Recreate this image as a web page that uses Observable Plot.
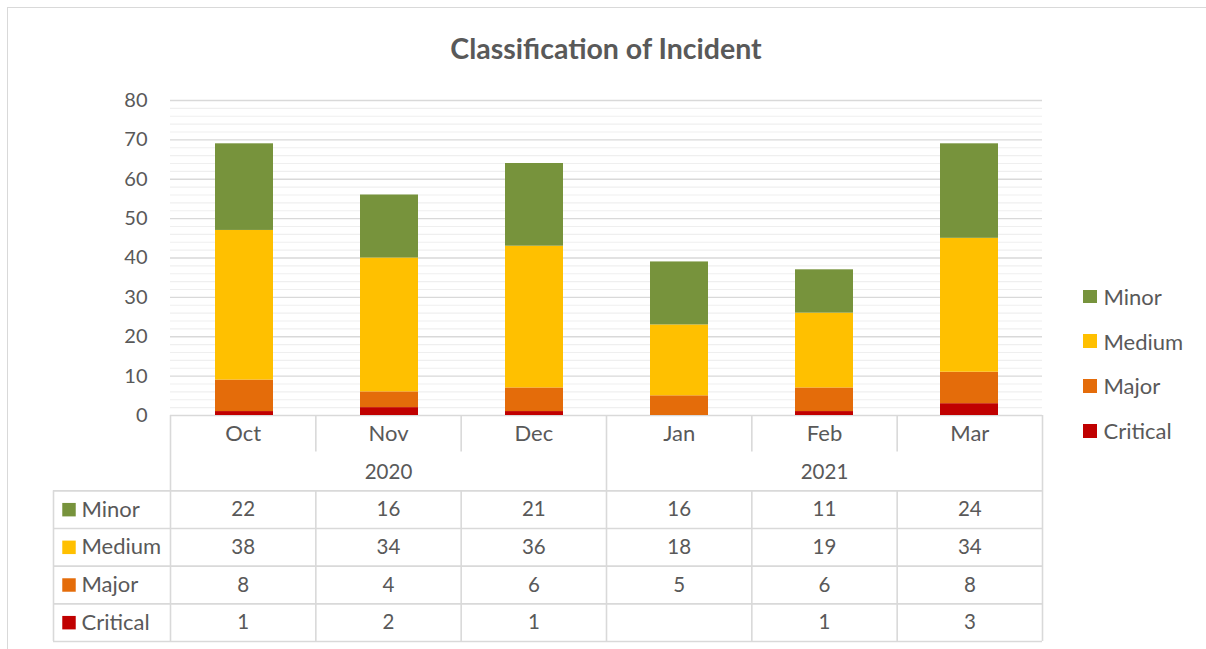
<!DOCTYPE html>
<html>
<head>
<meta charset="utf-8">
<script src="https://cdn.jsdelivr.net/npm/d3@7"></script>
<script src="https://cdn.jsdelivr.net/npm/@observablehq/plot@0.6"></script>
<style>
  html, body { margin: 0; padding: 0; background: #fff; }
  #root { position: relative; width: 1206px; height: 649px; overflow: hidden; background: #fff; font-family: Lato, "Open Sans", sans-serif; color: #595959; }
  #border { position: absolute; left: 7px; top: 7px; width: 1210px; height: 660px; border-top: 1.5px solid #d9d9d9; border-left: 1.5px solid #d9d9d9; }
  #title { position: absolute; left: 0; width: 1212px; top: 33px; text-align: center; font-size: 28.5px; font-weight: bold; line-height: 30px; color: #595959; }
  #chart { position: absolute; left: 0; top: 0; }
  #table { position: absolute; left: 0; top: 415px; }
  #legend { position: absolute; left: 1083px; top: 274px; }
  .li { position: relative; height: 44.8px; display: flex; align-items: center; font-size: 22px; }
  .sw { width: 13.5px; height: 13.5px; margin-right: 7px; }
  svg { overflow: visible; }
</style>
</head>
<body>
<div id="root">
  <div id="border"></div>
  <div id="title">Classification of Incident</div>
  <div id="chart"></div>
  <div id="table"></div>
  <div id="legend"></div>
</div>
<script>
// ---- data ----
const months = ["Oct", "Nov", "Dec", "Jan", "Feb", "Mar"];
const monthYears = ["2020", "2020", "2020", "2021", "2021", "2021"];
const seriesNames = ["Minor", "Medium", "Major", "Critical"];
const minor = [22, 16, 21, 16, 11, 24];
const medium = [38, 34, 36, 18, 19, 34];
const major = [8, 4, 6, 5, 6, 8];
const critical = [1, 2, 1, null, 1, 3];
const colors = ["#77933C", "#FFC000", "#E46C0A", "#C00000"];
const yTicks = [0, 10, 20, 30, 40, 50, 60, 70, 80];
const yMinorTicks = [2, 4, 6, 8, 12, 14, 16, 18, 22, 24, 26, 28, 32, 34, 36, 38, 42, 44, 46, 48, 52, 54, 56, 58, 62, 64, 66, 68, 72, 74, 76, 78];

const valuesBySeries = {Minor: minor, Medium: medium, Major: major, Critical: critical};

// long table for stacking: bottom-up order Critical, Major, Medium, Minor
const stackOrder = ["Critical", "Major", "Medium", "Minor"];
const bars = [];
months.forEach((m, i) => {
  stackOrder.forEach(s => {
    const v = valuesBySeries[s][i];
    if (v != null) bars.push({month: m, series: s, value: v});
  });
});

const textColor = "#595959";
const font = "Lato, 'Open Sans', sans-serif";
const lineColor = "#d9d9d9";

// ---- chart ----
const chart = Plot.plot({
  width: 1206,
  height: 416,
  marginTop: 100,
  marginBottom: 1,
  marginLeft: 170,
  marginRight: 164,
  style: {fontFamily: font, color: textColor, background: "transparent"},
  x: {domain: months, paddingInner: 0.6, paddingOuter: 0.3, axis: null},
  y: {domain: [0, 80]},
  color: {domain: seriesNames, range: colors},
  marks: [
    Plot.ruleY(yMinorTicks, {stroke: "#efefef", strokeWidth: 1.2}),
    Plot.ruleY(yTicks, {stroke: lineColor, strokeWidth: 1.3}),
    Plot.barY(bars, {x: "month", y: "value", fill: "series"}),
    Plot.axisY({ticks: yTicks, tickSize: 0, tickPadding: 23, fontSize: 20, label: null, fill: textColor})
  ]
});
document.getElementById("chart").appendChild(chart);

// ---- data table ----
const hdr = 117 / 145.33; // header column width in column units
const cells = [];
seriesNames.forEach((s, r) => {
  months.forEach((m, c) => {
    cells.push({row: r, col: c, value: valuesBySeries[s][c]});
  });
});
const yearGroups = d3.groups(months.map((m, i) => ({i, y: monthYears[i]})), d => d.y)
  .map(([y, arr]) => ({year: y, center: d3.mean(arr, d => d.i) + 0.5}));

const table = Plot.plot({
  width: 1206,
  height: 228,
  marginLeft: 53,
  marginRight: 164,
  marginTop: 0,
  marginBottom: 2,
  style: {fontFamily: font, color: textColor, background: "transparent"},
  x: {domain: [-hdr, 6], axis: null},
  y: {domain: [0, 6], range: [0, 226], axis: null},
  color: {domain: seriesNames, range: colors},
  marks: [
    Plot.ruleY([2, 3, 4, 5, 6], {x1: -hdr, x2: 6, stroke: lineColor, strokeWidth: 1.6}),
    Plot.ruleX([-hdr], {y1: 2, y2: 6, stroke: lineColor, strokeWidth: 1.6}),
    Plot.ruleX([0, 3, 6], {y1: 0, y2: 6, stroke: lineColor, strokeWidth: 1.6}),
    Plot.ruleX([1, 2, 4, 5], {y1: 0, y2: 0.97, stroke: lineColor, strokeWidth: 1.6}),
    Plot.ruleX([1, 2, 4, 5], {y1: 2, y2: 6, stroke: lineColor, strokeWidth: 1.6}),
    Plot.text(months, {x: (d, i) => i + 0.5, y: 0.5, text: d => d, fontSize: 22, fill: textColor}),
    Plot.text(yearGroups, {x: "center", y: 1.5, text: "year", fontSize: 20.5, fill: textColor}),
    Plot.text(cells, {x: d => d.col + 0.5, y: d => d.row + 2.5, text: d => d.value == null ? "" : String(d.value), fontSize: 20.5, fill: textColor}),
    Plot.dot(seriesNames, {x: -hdr, y: (d, i) => i + 2.5, dx: 15.5, symbol: "square", r: 7.6, fill: d => d, stroke: null}),
    Plot.text(seriesNames, {x: -hdr, y: (d, i) => i + 2.5, dx: 28, text: d => d, textAnchor: "start", fontSize: 22, fill: textColor})
  ]
});
document.getElementById("table").appendChild(table);

// ---- legend ----
const legend = document.getElementById("legend");
seriesNames.forEach((s, i) => {
  const row = document.createElement("div");
  row.className = "li";
  const sw = document.createElement("div");
  sw.className = "sw";
  sw.style.background = colors[i];
  const t = document.createElement("span");
  t.textContent = s;
  row.appendChild(sw);
  row.appendChild(t);
  legend.appendChild(row);
});
</script>
</body>
</html>
